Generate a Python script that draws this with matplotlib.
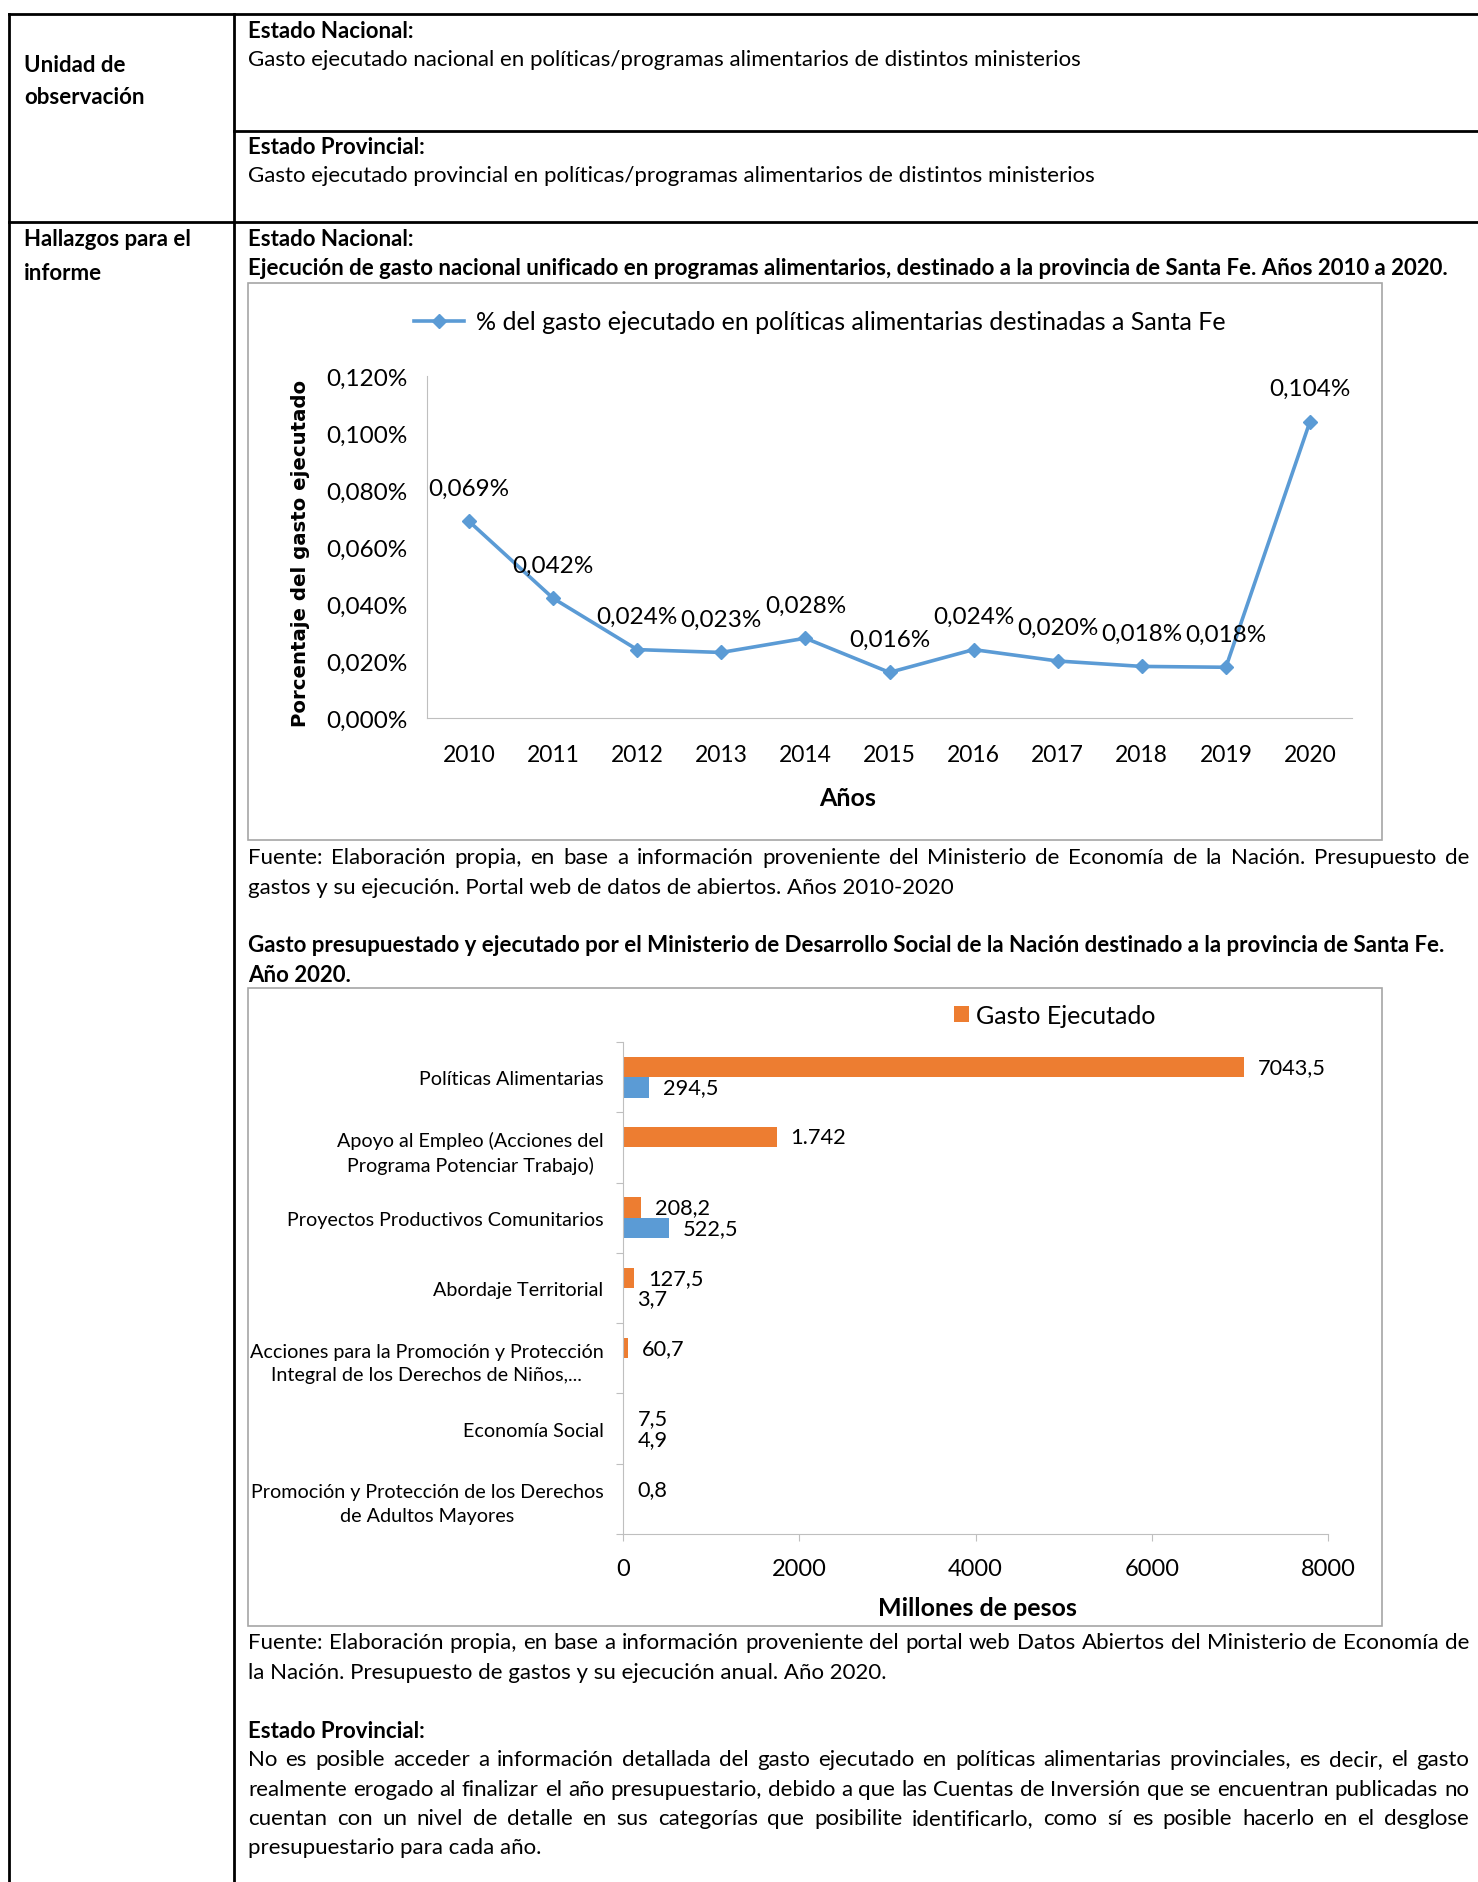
import matplotlib
matplotlib.use('Agg')
import matplotlib.pyplot as plt
from matplotlib.lines import Line2D
from matplotlib.patches import Rectangle
import numpy as np

# figure is laid out in pixel coordinates of the reference page
W, H = 1478, 1883
FONT = ['Lato', 'DejaVu Sans']
BLUE = '#5B9BD5'
ORANGE = '#ED7D31'
BOX_GREY = '#A6A6A6'
AXIS_GREY = '#BFBFBF'

# chart 1: share of food policy spending going to Santa Fe
years = ['2010', '2011', '2012', '2013', '2014', '2015', '2016', '2017', '2018', '2019', '2020']
share = [0.069, 0.042, 0.024, 0.023, 0.028, 0.016, 0.024, 0.020, 0.0181, 0.0178, 0.104]
share_labels = ['0,069%', '0,042%', '0,024%', '0,023%', '0,028%', '0,016%',
                '0,024%', '0,020%', '0,018%', '0,018%', '0,104%']
share_ticks = [0.0, 0.02, 0.04, 0.06, 0.08, 0.10, 0.12]
share_tick_labels = ['0,000%', '0,020%', '0,040%', '0,060%', '0,080%', '0,100%', '0,120%']

# chart 2: Ministerio de Desarrollo Social, 2020 (millones de pesos)
programs = ['Políticas Alimentarias',
            'Apoyo al Empleo (Acciones del\nPrograma Potenciar Trabajo)',
            'Proyectos Productivos Comunitarios',
            'Abordaje Territorial',
            'Acciones para la Promoción y Protección\nIntegral de los Derechos de Niños,...',
            'Economía Social',
            'Promoción y Protección de los Derechos\nde Adultos Mayores']
ejecutado = [7043.5, 1742.0, 208.2, 127.5, 60.7, 7.5, 0.8]
ejecutado_labels = ['7043,5', '1.742', '208,2', '127,5', '60,7', '7,5', '0,8']
otro = [294.5, np.nan, 522.5, 3.7, np.nan, 4.9, np.nan]
otro_labels = ['294,5', '', '522,5', '3,7', '', '4,9', '']
money_ticks = [0, 2000, 4000, 6000, 8000]

fuente_1 = ['Fuente: Elaboración propia, en base a información proveniente del Ministerio de Economía de la Nación. Presupuesto de',
            'gastos y su ejecución. Portal web de datos de abiertos. Años 2010-2020']
fuente_2 = ['Fuente: Elaboración propia, en base a información proveniente del portal web Datos Abiertos del Ministerio de Economía de',
            'la Nación. Presupuesto de gastos y su ejecución anual. Año 2020.']
provincial = ['No es posible acceder a información detallada del gasto ejecutado en políticas alimentarias provinciales, es decir, el gasto',
              'realmente erogado al finalizar el año presupuestario, debido a que las Cuentas de Inversión que se encuentran publicadas no',
              'cuentan con un nivel de detalle en sus categorías que posibilite identificarlo, como sí es posible hacerlo en el desglose',
              'presupuestario para cada año.']

TEXT_SIZE = 16


def fx(x):
    return x / W


def fy(y):
    return 1 - y / H


def put(x, y, s, size=TEXT_SIZE, weight='normal', **kw):
    return fig.text(fx(x), fy(y), s, fontsize=size, fontweight=weight,
                    family=FONT, va='center', **kw)


def hline(x0, x1, y, lw=2.0):
    fig.add_artist(Line2D([fx(x0), fx(x1)], [fy(y), fy(y)], color='black', lw=lw))


def vline(x, y0, y1, lw=2.0):
    fig.add_artist(Line2D([fx(x), fx(x)], [fy(y0), fy(y1)], color='black', lw=lw))


def justified(lines, x0, x1, y0, dy, size=TEXT_SIZE):
    """Word-spaced lines like the Word document, last line left aligned."""
    renderer = fig.canvas.get_renderer()
    for i, line in enumerate(lines):
        y = y0 + i * dy
        if i == len(lines) - 1:
            put(x0, y, line, size)
            continue
        words = line.split()
        texts = [put(0, y, w, size) for w in words]
        widths = [t.get_window_extent(renderer).width for t in texts]
        gap = (x1 - x0 - sum(widths)) / (len(words) - 1)
        x = x0
        for t, w in zip(texts, widths):
            t.set_position((fx(x), fy(y)))
            x += w + gap


def add_axes_px(x0, y0, x1, y1):
    return fig.add_axes([fx(x0), fy(y1), fx(x1) - fx(x0), fy(y0) - fy(y1)])


def chart_box(x0, y0, x1, y1):
    fig.add_artist(Rectangle((fx(x0), fy(y1)), fx(x1) - fx(x0), fy(y0) - fy(y1),
                             transform=fig.transFigure, fill=False,
                             edgecolor=BOX_GREY, lw=1.2))


fig = plt.figure(figsize=(W / 100, H / 100), dpi=100)
fig.patch.set_facecolor('white')

# ---- table frame ----
hline(9, W, 15)
vline(9, 15, H)
vline(234, 15, H)
hline(234, W, 132)
hline(9, W, 223)

put(24, 66, 'Unidad de', weight='bold')
put(24, 98, 'observación', weight='bold')
put(24, 240, 'Hallazgos para el', weight='bold')
put(24, 274, 'informe', weight='bold')

put(248, 32, 'Estado Nacional:', weight='bold')
put(248, 60, 'Gasto ejecutado nacional en políticas/programas alimentarios de distintos ministerios')
put(248, 148, 'Estado Provincial:', weight='bold')
put(248, 176, 'Gasto ejecutado provincial en políticas/programas alimentarios de distintos ministerios')

put(248, 240, 'Estado Nacional:', weight='bold')
put(248, 269, 'Ejecución de gasto nacional unificado en programas alimentarios, destinado a la provincia de Santa Fe. Años 2010 a 2020.',
    weight='bold')

# ---- chart 1 ----
chart_box(248, 284, 1382, 841)
ax1 = add_axes_px(427, 377, 1352, 719)
x = np.arange(len(years))
line, = ax1.plot(x, share, color=BLUE, lw=2.6, marker='D', markersize=7,
                 label='% del gasto ejecutado en políticas alimentarias destinadas a Santa Fe')
for xi, v, lab in zip(x, share, share_labels):
    ax1.annotate(lab, (xi, v), xytext=(0, 24), textcoords='offset points',
                 ha='center', va='center', fontsize=17.5, family=FONT)
ax1.set_xlim(-0.5, len(years) - 0.5)
ax1.set_ylim(0, 0.12)
ax1.set_xticks(x, years)
ax1.set_yticks(share_ticks, share_tick_labels)
ax1.tick_params(length=0, labelsize=17.5, pad=14)
ax1.tick_params(axis='x', labelsize=16.5, pad=19)
for lab in ax1.get_xticklabels() + ax1.get_yticklabels():
    lab.set_family(FONT)
for side in ['top', 'right']:
    ax1.spines[side].set_visible(False)
for side in ['left', 'bottom']:
    ax1.spines[side].set_color(AXIS_GREY)
ax1.set_xlabel('Años', fontsize=18, fontweight='bold', family=FONT)
ax1.xaxis.set_label_coords((848 - 427) / 925, -(798 - 719) / 342)
ax1.xaxis.label.set_va('center')
ax1.set_ylabel('Porcentaje del gasto ejecutado', fontsize=14.2, fontweight='bold',
               family='DejaVu Sans')
ax1.yaxis.set_label_coords(-(427 - 300) / 925, (719 - 553) / 342)
ax1.yaxis.label.set_va('center')
ax1.legend(handles=[line], loc='center', bbox_to_anchor=(fx(820), fy(323)),
           bbox_transform=fig.transFigure, frameon=False, handlelength=2.0,
           handletextpad=0.5, prop={'family': FONT, 'size': 18})

justified(fuente_1, 248, 1469, 858, 30)

put(248, 946, 'Gasto presupuestado y ejecutado por el Ministerio de Desarrollo Social de la Nación destinado a la provincia de Santa Fe.',
    weight='bold')
put(248, 976, 'Año 2020.', weight='bold')

# ---- chart 2 ----
chart_box(248, 989, 1382, 1627)
ax2 = add_axes_px(623, 1043, 1328, 1535)
pos = np.arange(len(programs))
h = 0.29
bars_e = ax2.barh(pos - h / 2, ejecutado, height=h, color=ORANGE, label='Gasto Ejecutado')
ax2.barh(pos + h / 2, otro, height=h, color=BLUE)
for p, v, lab in zip(pos, ejecutado, ejecutado_labels):
    ax2.annotate(lab, (v, p - h / 2), xytext=(10, 0), textcoords='offset points',
                 ha='left', va='center', fontsize=15.7, family=FONT)
for p, v, lab in zip(pos, otro, otro_labels):
    if lab:
        ax2.annotate(lab, (v, p + h / 2), xytext=(10, 0), textcoords='offset points',
                     ha='left', va='center', fontsize=15.7, family=FONT)
ax2.set_xlim(0, 8000)
ax2.set_ylim(len(programs) - 0.5, -0.5)
ax2.set_xticks(money_ticks, [str(t) for t in money_ticks])
ax2.set_yticks(np.arange(len(programs) + 1) - 0.5, [''] * (len(programs) + 1))
ax2.set_yticks(pos, programs, minor=True)
ax2.tick_params(axis='y', which='major', length=5, color=AXIS_GREY)
ax2.tick_params(axis='y', which='minor', length=0, pad=14, labelsize=14.2)
ax2.tick_params(axis='x', length=5, color=AXIS_GREY, labelsize=17, pad=12)
for lab in ax2.get_xticklabels() + ax2.get_yticklabels(minor=True):
    lab.set_family(FONT)
for lab in ax2.get_yticklabels(minor=True):
    lab.set_multialignment('center')
    lab.set_linespacing(1.45)
for side in ['top', 'right']:
    ax2.spines[side].set_visible(False)
for side in ['left', 'bottom']:
    ax2.spines[side].set_color(AXIS_GREY)
ax2.set_xlabel('Millones de pesos', fontsize=18, fontweight='bold', family=FONT)
ax2.xaxis.set_label_coords((977 - 623) / 705, -(1608 - 1535) / 492)
ax2.xaxis.label.set_va('center')
ax2.legend(handles=[bars_e], loc='center', bbox_to_anchor=(fx(1055), fy(1016)),
           bbox_transform=fig.transFigure, frameon=False, handlelength=0.6,
           handleheight=0.6, handletextpad=0.3, prop={'family': FONT, 'size': 18})

justified(fuente_2, 248, 1469, 1643, 30)

put(248, 1732, 'Estado Provincial:', weight='bold')
justified(provincial, 248, 1469, 1760, 29.5)

fig.savefig('out.png', dpi=100)
